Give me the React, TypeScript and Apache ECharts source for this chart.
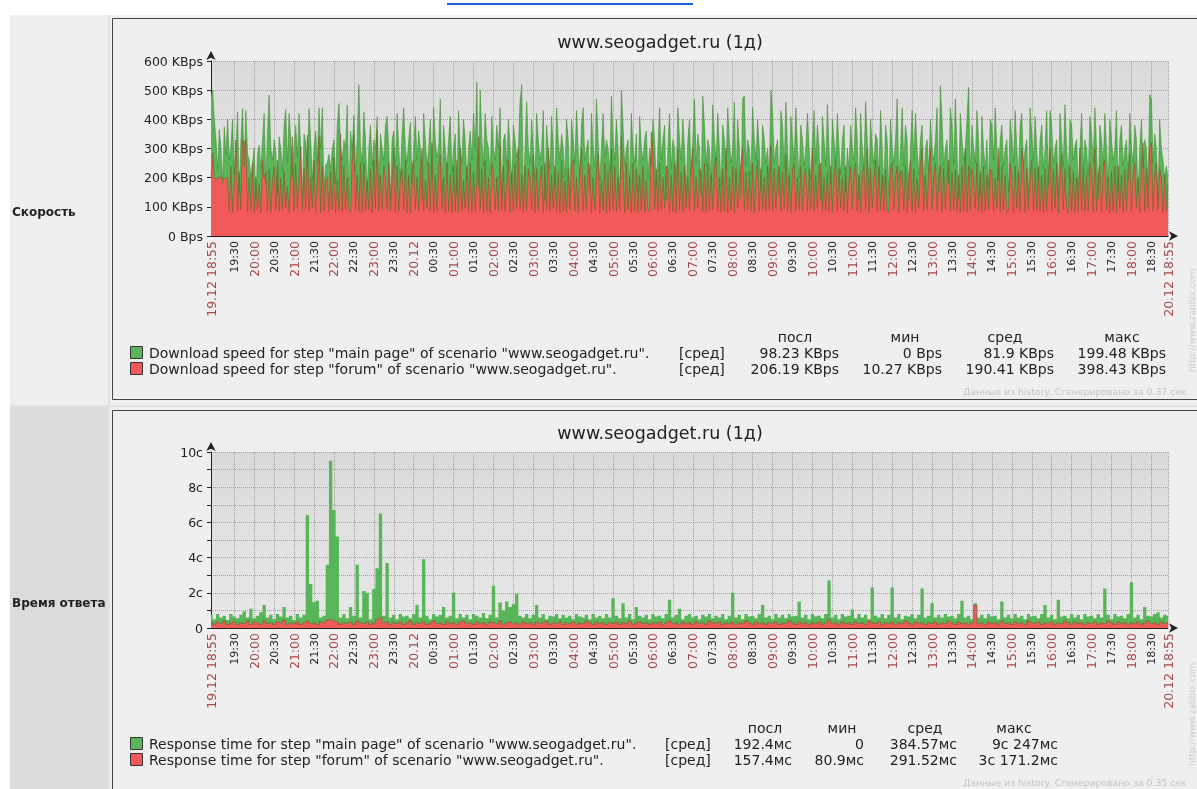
import React, { useEffect, useRef } from 'react';
import * as echarts from 'echarts';

// Download speed, KBps, one value per 2.5 minutes from 19.12 18:55 to 20.12 18:55.
// Visible height of the green (main page) region:
const SPEED_MAIN = [
  480, 500, 400, 330, 230, 365, 300, 180, 375, 280, 400, 260, 310, 400, 210, 300, 425, 150, 330, 437, 240, 430, 280, 260,
  200, 250, 300, 120, 280, 311, 230, 330, 420, 180, 350, 483, 300, 260, 330, 290, 140, 340, 300, 220, 380, 434, 250, 420,
  330, 200, 300, 380, 270, 420, 300, 130, 350, 320, 240, 437, 330, 190, 300, 360, 250, 440, 300, 440, 160, 243, 250, 280,
  230, 300, 330, 180, 380, 454, 300, 260, 330, 300, 449, 120, 360, 300, 414, 220, 330, 519, 300, 250, 426, 330, 150, 300,
  380, 240, 330, 300, 409, 170, 350, 300, 260, 380, 409, 300, 130, 330, 360, 230, 420, 300, 200, 350, 440, 300, 250, 330,
  390, 180, 300, 410, 260, 360, 300, 120, 420, 330, 240, 300, 400, 200, 440, 330, 270, 300, 470, 150, 380, 300, 230, 330,
  410, 220, 300, 350, 140, 430, 300, 250, 400, 330, 190, 300, 360, 260, 420, 300, 528, 170, 500, 330, 240, 420, 330, 300,
  210, 410, 300, 260, 380, 300, 440, 130, 330, 350, 240, 400, 300, 180, 380, 330, 270, 300, 460, 519, 150, 300, 460, 300,
  250, 400, 300, 190, 420, 330, 260, 300, 430, 120, 380, 300, 230, 410, 300, 170, 440, 330, 260, 350, 300, 200, 400, 330,
  140, 400, 330, 250, 430, 300, 210, 380, 440, 260, 300, 330, 160, 420, 300, 240, 470, 330, 190, 300, 420, 270, 330, 300,
  220, 480, 330, 260, 400, 300, 130, 500, 380, 240, 300, 330, 180, 420, 300, 250, 350, 150, 410, 300, 260, 330, 360, 200,
  300, 240, 400, 330, 170, 300, 440, 260, 330, 380, 120, 300, 420, 230, 330, 300, 190, 440, 330, 260, 400, 300, 150, 330,
  400, 210, 330, 470, 250, 350, 300, 140, 480, 380, 240, 330, 300, 190, 450, 330, 260, 420, 300, 170, 380, 330, 230, 440,
  330, 250, 300, 460, 180, 400, 300, 130, 470, 480, 240, 330, 300, 210, 440, 330, 260, 400, 300, 160, 380, 330, 250, 300,
  200, 500, 420, 250, 300, 330, 140, 430, 380, 230, 460, 300, 170, 410, 330, 260, 440, 300, 200, 380, 330, 240, 300, 420,
  300, 190, 330, 430, 250, 380, 300, 120, 410, 330, 240, 450, 300, 180, 400, 330, 260, 420, 300, 210, 330, 380, 150, 300,
  230, 380, 300, 260, 440, 330, 130, 420, 300, 240, 460, 330, 180, 400, 300, 250, 350, 330, 200, 430, 300, 160, 380, 330,
  140, 400, 300, 250, 330, 470, 190, 300, 440, 240, 380, 330, 120, 300, 430, 260, 420, 300, 210, 330, 380, 170, 300, 330,
  220, 400, 300, 260, 330, 440, 150, 515, 400, 240, 300, 330, 180, 440, 380, 250, 470, 300, 130, 420, 330, 260, 300, 400,
  510, 200, 380, 300, 250, 430, 330, 140, 410, 300, 230, 330, 170, 400, 380, 260, 440, 300, 190, 330, 380, 240, 300, 330,
  150, 400, 330, 250, 430, 300, 200, 380, 420, 240, 300, 330, 130, 440, 350, 260, 410, 300, 190, 330, 380, 230, 300, 430,
  170, 430, 380, 250, 300, 330, 140, 420, 330, 240, 450, 300, 200, 400, 380, 260, 310, 330, 160, 300, 420, 230, 330, 300,
  210, 410, 350, 250, 440, 300, 130, 380, 330, 240, 420, 300, 180, 400, 330, 260, 300, 430, 150, 330, 380, 240, 300, 330,
  190, 420, 300, 250, 380, 330, 140, 300, 400, 230, 330, 300, 170, 485, 470, 250, 350, 300, 130, 400, 300, 260, 200, 240,
  200,
];
// Height of the red (forum) region:
const SPEED_FORUM = [
  200, 283, 200, 192, 200, 200, 203, 200, 195, 200, 200, 85, 240, 80, 180, 329, 85, 220, 90, 330, 320, 330, 85, 200,
  90, 250, 80, 200, 90, 180, 80, 260, 200, 215, 85, 230, 80, 190, 240, 90, 260, 85, 200, 90, 220, 95, 170, 80,
  210, 340, 85, 250, 95, 190, 306, 85, 230, 90, 346, 85, 200, 95, 260, 80, 180, 340, 80, 240, 85, 190, 200, 85,
  220, 90, 270, 80, 190, 90, 350, 85, 240, 90, 200, 90, 80, 260, 346, 90, 210, 85, 250, 80, 250, 85, 190, 90,
  230, 80, 260, 95, 363, 85, 210, 90, 240, 200, 90, 250, 85, 190, 300, 80, 240, 85, 200, 230, 90, 260, 80, 210,
  80, 240, 260, 90, 200, 85, 230, 300, 85, 190, 95, 250, 85, 320, 80, 210, 85, 240, 280, 90, 200, 80, 250, 85,
  210, 80, 240, 85, 260, 80, 300, 85, 190, 95, 240, 85, 250, 80, 220, 85, 200, 340, 90, 230, 80, 260, 85, 200,
  80, 250, 220, 90, 200, 85, 310, 90, 240, 85, 190, 260, 80, 220, 85, 250, 95, 300, 90, 210, 80, 240, 85, 230,
  200, 90, 280, 80, 230, 90, 190, 240, 80, 250, 90, 300, 85, 210, 95, 240, 85, 220, 80, 260, 85, 190, 80, 230,
  90, 240, 260, 85, 200, 80, 230, 300, 85, 210, 90, 250, 240, 80, 200, 90, 230, 280, 80, 190, 90, 250, 80, 220,
  85, 300, 90, 240, 85, 200, 90, 340, 220, 80, 250, 90, 200, 80, 250, 85, 230, 80, 210, 90, 240, 80, 190, 90,
  85, 357, 300, 90, 230, 85, 250, 90, 200, 95, 240, 230, 80, 210, 85, 250, 80, 300, 90, 220, 80, 240, 95, 200,
  90, 240, 300, 85, 200, 95, 230, 220, 85, 250, 80, 250, 85, 210, 90, 240, 270, 85, 200, 80, 230, 85, 300, 80,
  200, 90, 240, 80, 230, 95, 200, 250, 300, 85, 220, 90, 220, 85, 250, 80, 200, 260, 85, 230, 90, 200, 85, 240,
  90, 310, 85, 230, 95, 200, 240, 85, 220, 90, 280, 85, 210, 80, 230, 250, 85, 200, 90, 240, 85, 210, 230, 85,
  230, 90, 300, 85, 210, 95, 240, 250, 85, 200, 90, 220, 85, 240, 80, 210, 260, 85, 230, 95, 200, 85, 240, 80,
  200, 240, 90, 220, 250, 85, 210, 80, 220, 240, 90, 300, 80, 230, 95, 200, 260, 85, 240, 90, 210, 85, 230, 90,
  80, 230, 250, 90, 200, 240, 80, 220, 220, 90, 240, 80, 210, 260, 85, 230, 80, 200, 95, 240, 300, 85, 210, 90,
  230, 300, 90, 210, 250, 85, 200, 240, 80, 230, 90, 210, 260, 85, 220, 90, 230, 85, 210, 80, 240, 85, 300, 80,
  240, 90, 230, 200, 95, 250, 85, 220, 80, 240, 85, 210, 90, 230, 220, 85, 200, 95, 300, 85, 240, 90, 210, 80,
  90, 250, 210, 80, 240, 95, 220, 85, 300, 250, 80, 230, 90, 200, 260, 85, 230, 90, 240, 85, 210, 80, 230, 85,
  210, 300, 85, 230, 95, 250, 80, 210, 280, 90, 230, 95, 80, 240, 85, 220, 80, 200, 85, 300, 90, 230, 85, 210,
  85, 250, 220, 80, 300, 85, 210, 240, 80, 230, 260, 90, 200, 80, 220, 85, 240, 80, 240, 95, 210, 80, 230, 85,
  220, 280, 85, 210, 250, 95, 200, 80, 240, 320, 85, 230, 95, 300, 320, 85, 210, 250, 90, 230, 200, 80, 210, 85,
  180,
];
// Response time, seconds, one value per 5 minutes: forum (red) at the bottom, main page (green) stacked on top.
const RESP_FORUM = [
  0.3, 0.2, 0.35, 0.25, 0.4, 0.2, 0.3, 0.35, 0.2, 0.3, 0.25, 0.4,
  0.2, 0.35, 0.3, 0.2, 0.4, 0.25, 0.3, 0.2, 0.35, 0.3, 0.45, 0.2,
  0.3, 0.25, 0.35, 0.2, 0.3, 0.4, 0.25, 0.3, 0.2, 0.35, 0.3, 0.45,
  0.5, 0.4, 0.35, 0.2, 0.3, 0.25, 0.35, 0.2, 0.4, 0.3, 0.25, 0.35,
  0.2, 0.3, 0.45, 0.6, 0.3, 0.35, 0.2, 0.3, 0.25, 0.35, 0.2, 0.3,
  0.4, 0.2, 0.3, 0.25, 0.35, 0.2, 0.3, 0.4, 0.25, 0.3, 0.2, 0.35,
  0.25, 0.3, 0.2, 0.35, 0.4, 0.25, 0.3, 0.2, 0.35, 0.25, 0.3, 0.2,
  0.35, 0.3, 0.25, 0.4, 0.2, 0.3, 0.35, 0.25, 0.3, 0.2, 0.35, 0.25,
  0.3, 0.2, 0.35, 0.25, 0.3, 0.4, 0.2, 0.3, 0.25, 0.35, 0.2, 0.3,
  0.25, 0.35, 0.2, 0.3, 0.25, 0.4, 0.3, 0.2, 0.35, 0.25, 0.3, 0.2,
  0.3, 0.25, 0.35, 0.2, 0.3, 0.25, 0.4, 0.2, 0.3, 0.35, 0.25, 0.3,
  0.2, 0.3, 0.25, 0.35, 0.2, 0.3, 0.4, 0.25, 0.3, 0.2, 0.35, 0.25,
  0.3, 0.2, 0.35, 0.25, 0.3, 0.2, 0.4, 0.3, 0.25, 0.35, 0.2, 0.3,
  0.25, 0.35, 0.2, 0.3, 0.25, 0.4, 0.3, 0.2, 0.35, 0.25, 0.3, 0.2,
  0.3, 0.25, 0.35, 0.2, 0.3, 0.25, 0.4, 0.3, 0.2, 0.35, 0.25, 0.3,
  0.2, 0.3, 0.25, 0.35, 0.2, 0.3, 0.45, 0.25, 0.3, 0.2, 0.35, 0.25,
  0.3, 0.2, 0.35, 0.25, 0.3, 0.2, 0.4, 0.3, 0.25, 0.35, 0.2, 0.3,
  0.25, 0.35, 0.2, 0.3, 0.25, 0.4, 0.3, 0.2, 0.35, 0.25, 0.3, 0.2,
  0.3, 0.25, 0.35, 0.2, 0.3, 0.25, 0.4, 0.3, 0.2, 0.35, 0.25, 0.3,
  0.2, 0.3, 1.3, 0.25, 0.3, 0.2, 0.35, 0.25, 0.3, 0.2, 0.4, 0.25,
  0.3, 0.2, 0.35, 0.25, 0.3, 0.2, 0.4, 0.3, 0.25, 0.35, 0.2, 0.3,
  0.25, 0.35, 0.2, 0.3, 0.25, 0.4, 0.3, 0.2, 0.35, 0.25, 0.3, 0.2,
  0.3, 0.25, 0.35, 0.2, 0.3, 0.25, 0.4, 0.3, 0.2, 0.35, 0.25, 0.3,
  0.2, 0.3, 0.25, 0.35, 0.2, 0.3, 0.4, 0.25, 0.3, 0.2, 0.35, 0.25, 0.3,
];
const RESP_MAIN = [
  0.45, 0.3, 0.45, 0.35, 0.3, 0.25, 0.5, 0.3, 0.35, 0.45, 0.7, 0.2,
  0.9, 0.2, 0.4, 0.7, 0.9, 0.35, 0.45, 0.3, 0.45, 0.35, 0.75, 0.4,
  0.4, 0.2, 0.45, 0.4, 0.45, 6.0, 2.25, 1.16, 1.35, 0.25, 0.4, 3.15,
  9.0, 6.3, 4.85, 0.4, 0.5, 0.3, 0.85, 0.5, 3.2, 0.3, 1.85, 1.65,
  0.3, 1.9, 2.95, 5.9, 0.4, 3.35, 0.4, 0.45, 0.25, 0.45, 0.45, 0.4,
  0.15, 0.6, 1.0, 0.35, 3.55, 0.5, 0.2, 0.4, 0.4, 0.45, 1.0, 0.25,
  0.45, 1.7, 0.35, 0.45, 0.2, 0.5, 0.2, 0.6, 0.35, 0.35, 0.55, 0.35,
  0.4, 2.1, 0.35, 1.05, 0.8, 1.2, 0.85, 1.1, 1.65, 0.5, 0.25, 0.55,
  0.25, 0.55, 0.95, 0.35, 0.5, 0.1, 0.5, 0.35, 0.55, 0.2, 0.55, 0.3,
  0.45, 0.15, 0.6, 0.35, 0.35, 0.35, 0.2, 0.6, 0.25, 0.45, 0.25, 0.6,
  0.3, 1.45, 0.35, 0.35, 1.1, 0.35, 0.4, 0.3, 0.9, 0.35, 0.35, 0.45,
  0.3, 0.5, 0.4, 0.35, 0.35, 0.5, 1.2, 0.35, 0.45, 0.9, 0.15, 0.45,
  0.5, 0.4, 0.35, 0.25, 0.45, 0.45, 0.4, 0.25, 0.45, 0.25, 0.6, 0.2,
  0.45, 1.65, 0.4, 0.45, 0.25, 0.4, 0.35, 0.5, 0.2, 0.55, 1.0, 0.4,
  0.4, 0.25, 0.45, 0.4, 0.45, 0.3, 0.4, 0.35, 0.5, 1.15, 0.35, 0.45,
  0.3, 0.5, 0.4, 0.35, 0.35, 0.5, 2.25, 0.35, 0.45, 0.3, 0.45, 0.4,
  0.4, 0.85, 0.2, 0.55, 0.3, 0.55, 0.1, 2.0, 0.45, 0.25, 0.6, 0.25,
  0.5, 1.95, 0.4, 0.5, 0.25, 0.3, 0.35, 0.6, 0.2, 0.5, 1.95, 0.4,
  0.4, 1.15, 0.25, 0.55, 0.3, 0.55, 0.25, 0.4, 0.35, 0.45, 1.3, 0.3,
  0.5, 0.2, 0.1, 0.35, 0.45, 0.35, 0.45, 0.4, 0.4, 0.3, 1.1, 0.35,
  0.45, 0.35, 0.45, 0.35, 0.4, 0.3, 0.4, 0.35, 0.45, 0.2, 0.6, 1.0,
  0.35, 0.4, 0.3, 1.3, 0.4, 0.3, 0.25, 0.6, 0.25, 0.5, 0.2, 0.6,
  0.35, 0.45, 0.2, 0.6, 0.3, 2.0, 0.35, 0.2, 0.6, 0.3, 0.45, 0.25,
  0.6, 2.3, 0.35, 0.4, 0.3, 0.9, 0.3, 0.4, 0.5, 0.7, 0.25, 0.5, 0.4,
];

const TITLE = 'www.seogadget.ru (1д)';
const SPEED_LEGEND = [
  'Download speed for step "main page" of scenario "www.seogadget.ru".',
  'Download speed for step "forum" of scenario "www.seogadget.ru".',
];
const RESP_LEGEND = [
  'Response time for step "main page" of scenario "www.seogadget.ru".',
  'Response time for step "forum" of scenario "www.seogadget.ru".',
];
const STAT_HEADERS = ['посл', 'мин', 'сред', 'макс'];
const SPEED_STATS = [
  ['98.23 KBps', '0 Bps', '81.9 KBps', '199.48 KBps'],
  ['206.19 KBps', '10.27 KBps', '190.41 KBps', '398.43 KBps'],
];
const RESP_STATS = [
  ['192.4мс', '0', '384.57мс', '9с 247мс'],
  ['157.4мс', '80.9мс', '291.52мс', '3с 171.2мс'],
];

// time categories from 19.12 18:55 to 20.12 18:55
const START_MIN = 18 * 60 + 55;
const pad = (n: number) => (n < 10 ? '0' + n : '' + n);
function makeCategories(n: number, step: number): string[] {
  const out: string[] = [];
  for (let i = 0; i < n; i++) {
    const t = Math.floor(START_MIN + i * step);
    const day = t >= 1440 ? 20 : 19;
    const m = t % 1440;
    const hm = pad(Math.floor(m / 60)) + ':' + pad(m % 60);
    if (i === 0 || i === n - 1) out.push(day + '.12 ' + hm);
    else if (m === 0) out.push('20.12');
    else out.push(hm);
  }
  return out;
}
const SPEED_CATS = makeCategories(SPEED_MAIN.length, 2.5);
const RESP_CATS = makeCategories(RESP_MAIN.length, 5);

const FONT = 'DejaVu Sans';
const GREEN = '#58b558';
const RED = '#f25a5a';
const GREEN_EDGE = '#3f8a2c';
const RED_EDGE = '#6e5e1e';
const GRID_LINE = '#a0a0a0';

// labels every 30 minutes, starting at 19:30 (35 min after start), plus both ends
function tickFn(n: number, step: number) {
  const first = 35 / step;
  const every = 30 / step;
  return (i: number) => i === 0 || i === n - 1 || (i >= first && (i - first) % every === 0);
}

function xAxis(gridIndex: number, cats: string[], step: number) {
  const show = tickFn(cats.length, step);
  return {
    type: 'category',
    gridIndex,
    data: cats,
    boundaryGap: false,
    axisLine: {
      show: true,
      lineStyle: { color: '#222', width: 1 },
      symbol: ['none', 'arrow'],
      symbolSize: [7, 9],
      symbolOffset: [0, 10],
    },
    axisTick: { show: false },
    axisLabel: {
      interval: (i: number) => show(i),
      rotate: 90,
      margin: 5,
      fontFamily: FONT,
      formatter: (v: string) => (v.indexOf('.') >= 0 || v.endsWith(':00') ? '{r|' + v + '}' : '{k|' + v + '}'),
      rich: {
        r: { color: '#a84848', fontSize: 12.5, fontFamily: FONT },
        k: { color: '#222', fontSize: 11, fontFamily: FONT },
      },
    },
    splitLine: {
      show: true,
      interval: (i: number) => show(i),
      lineStyle: { color: GRID_LINE, type: 'dotted', width: 1 },
    },
  };
}

function yAxis(gridIndex: number, max: number, interval: number, fmt: (v: number) => string) {
  return {
    type: 'value',
    gridIndex,
    min: 0,
    max,
    interval,
    axisLine: {
      show: true,
      lineStyle: { color: '#222', width: 1 },
      symbol: ['none', 'arrow'],
      symbolSize: [7, 9],
      symbolOffset: [0, 10],
    },
    axisTick: { show: true, length: 4, lineStyle: { color: '#222' } },
    axisLabel: { formatter: fmt, color: '#222', fontSize: 12.5, fontFamily: FONT, margin: 8 },
    splitLine: { show: true, lineStyle: { color: GRID_LINE, type: 'dotted', width: 1 } },
  };
}

function area(xi: number, data: number[], color: string, z: number, extra: any = {}) {
  return {
    type: 'line', xAxisIndex: xi, yAxisIndex: xi, data, symbol: 'none', silent: true,
    lineStyle: { width: 0 }, areaStyle: { color, opacity: 1 }, z, ...extra,
  };
}
function edge(xi: number, data: number[], color: string, opacity: number, z: number, extra: any = {}) {
  return {
    type: 'line', xAxisIndex: xi, yAxisIndex: xi, data, symbol: 'none', silent: true,
    lineStyle: { color, width: 1, opacity }, z, ...extra,
  };
}

const plotBg = {
  type: 'linear', x: 0, y: 0, x2: 0, y2: 1,
  colorStops: [{ offset: 0, color: '#dadada' }, { offset: 1, color: '#e8e8e8' }],
};

function txt(x: number, y: number, text: string, o: any = {}) {
  return {
    type: 'text', x, y, z: 50, rotation: o.rotation || 0,
    style: {
      text, fill: o.fill || '#222', fontSize: o.size || 14, fontFamily: FONT,
      fontWeight: o.weight || 'normal', align: o.align || 'left', verticalAlign: 'middle',
    },
  };
}
function rect(x: number, y: number, w: number, h: number, fill: string, stroke?: string, z = -10) {
  return {
    type: 'rect', z, shape: { x, y, width: w, height: h },
    style: { fill, stroke: stroke || null, lineWidth: stroke ? 1 : 0 },
  };
}

function legendBlock(top: number, labels: string[], stats: string[][], avgX: number, headerX: number[], valueRight: number[], footer: string) {
  const els: any[] = [];
  STAT_HEADERS.forEach((h, i) => els.push(txt(headerX[i], top, h, { align: 'center' })));
  labels.forEach((l, r) => {
    const y = top + 15.5 + r * 16;
    els.push(rect(130.5, y - 6, 12, 12, r === 0 ? GREEN : RED, '#333', 40));
    els.push(txt(149, y, l));
    els.push(txt(avgX, y, '[сред]'));
    stats[r].forEach((s, i) => els.push(txt(valueRight[i], y, s, { align: 'right' })));
  });
  els.push(txt(963, top + 54, footer, { fill: '#c4c4c4', size: 9.3 }));
  return els;
}

export default function App() {
  const ref = useRef<HTMLDivElement>(null);
  useEffect(() => {
    if (!ref.current) return;
    const chart = echarts.init(ref.current, undefined, { renderer: 'svg' });
    const graphic: any[] = [
      rect(0, 0, 1197, 789, '#ffffff', undefined, -20),
      { type: 'line', z: -5, shape: { x1: 447, y1: 4, x2: 693, y2: 4 }, style: { stroke: '#1f5fd6', lineWidth: 2 } },
      rect(10, 15, 1187, 774, '#e2e2e2', undefined, -15),
      rect(10, 15, 98, 390, '#efefef', undefined, -12),
      rect(10, 407, 98, 382, '#dcdcdc', undefined, -12),
      rect(110, 15, 1087, 390, '#efefef', undefined, -12),
      rect(110, 407, 1087, 382, '#efefef', undefined, -12),
      rect(112.5, 18.5, 1100, 381, '#efefef', '#444', -8),
      rect(112.5, 410.5, 1100, 400, '#efefef', '#444', -8),
      txt(12, 212, 'Скорость', { weight: 'bold', size: 12 }),
      txt(12, 603, 'Время ответа', { weight: 'bold', size: 12 }),
      txt(660, 42, TITLE, { align: 'center', size: 17.5 }),
      txt(660, 433, TITLE, { align: 'center', size: 17.5 }),
      txt(1192, 372, 'http://www.zabbix.com', { rotation: Math.PI / 2, fill: '#cfcfcf', size: 9 }),
      txt(1192, 766, 'http://www.zabbix.com', { rotation: Math.PI / 2, fill: '#cfcfcf', size: 9 }),
      ...legendBlock(337, SPEED_LEGEND, SPEED_STATS, 679, [795, 905, 1005, 1122], [839, 942, 1054, 1166], 'Данные из history. Сгенерировано за 0.37 сек'),
      ...legendBlock(728, RESP_LEGEND, RESP_STATS, 665, [765, 842, 925, 1014], [792, 864, 957, 1058], 'Данные из history. Сгенерировано за 0.35 сек'),
    ];
    chart.setOption({
      animation: false,
      backgroundColor: 'transparent',
      graphic,
      grid: [
        { left: 211, top: 61, width: 957, height: 175, show: true, backgroundColor: plotBg, borderWidth: 0 },
        { left: 211, top: 452, width: 957, height: 176, show: true, backgroundColor: plotBg, borderWidth: 0 },
      ],
      xAxis: [xAxis(0, SPEED_CATS, 2.5), xAxis(1, RESP_CATS, 5)],
      yAxis: [
        yAxis(0, 600, 100, (v: number) => (v === 0 ? '0 Bps' : v + ' KBps')),
        yAxis(1, 10, 1, (v: number) => (v % 2 !== 0 ? '' : v === 0 ? '0' : v + 'с')),
      ],
      series: [
        area(0, SPEED_MAIN, GREEN, 2),
        area(0, SPEED_FORUM, RED, 3),
        edge(0, SPEED_MAIN, GREEN_EDGE, 0.55, 4),
        edge(0, SPEED_FORUM, RED_EDGE, 0.55, 5),
        area(1, RESP_FORUM, RED, 2, { stack: 'resp', step: 'middle' }),
        area(1, RESP_MAIN, GREEN, 3, { stack: 'resp', step: 'middle' }),
        edge(1, RESP_FORUM, RED_EDGE, 0.7, 5, { step: 'middle' }),
      ],
    });
    return () => chart.dispose();
  }, []);
  return <div ref={ref} style={{ position: 'fixed', left: 0, top: 0, width: 1197, height: 789 }} />;
}
